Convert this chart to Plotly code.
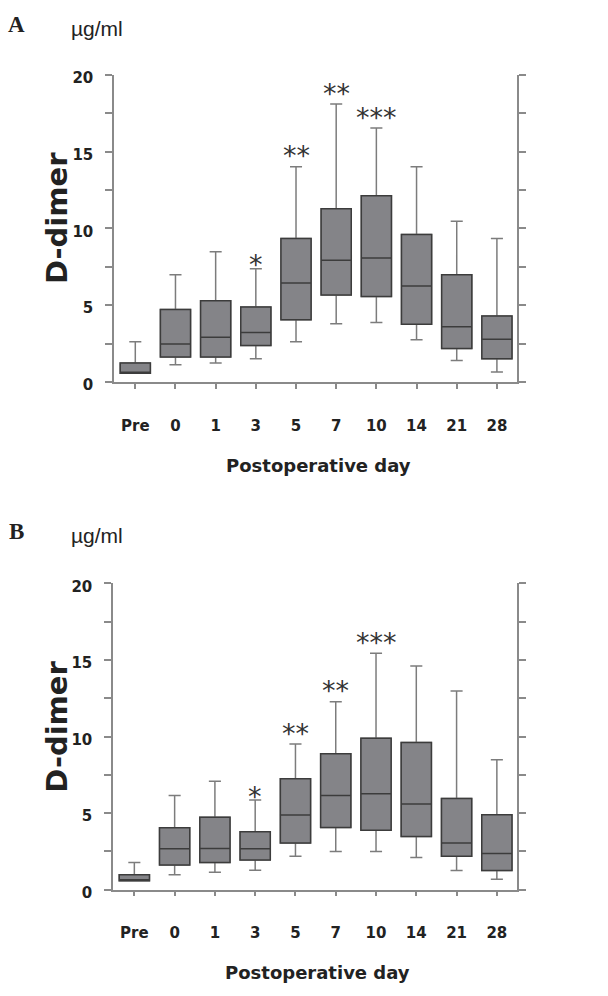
import plotly.graph_objects as go

categories = ["Pre", "0", "1", "3", "5", "7", "10", "14", "21", "28"]

# Panel A (D-dimer, µg/ml)
a_min = [0.57, 1.13, 1.24, 1.52, 2.63, 3.79, 3.88, 2.76, 1.41, 0.66]
a_q1 = [0.57, 1.63, 1.63, 2.38, 4.05, 5.67, 5.57, 3.77, 2.18, 1.52]
a_med = [0.60, 2.48, 2.91, 3.23, 6.45, 7.92, 8.07, 6.25, 3.60, 2.78]
a_q3 = [1.24, 4.73, 5.29, 4.88, 9.34, 11.28, 12.13, 9.61, 6.98, 4.30]
a_max = [2.63, 6.98, 8.48, 7.37, 14.02, 18.09, 16.53, 14.02, 10.47, 9.34]
a_sig = ["", "", "", "*", "**", "**", "***", "", "", ""]

# Panel B
b_min = [0.58, 0.97, 1.14, 1.27, 2.19, 2.49, 2.49, 2.11, 1.25, 0.69]
b_q1 = [0.58, 1.61, 1.78, 1.94, 3.05, 4.06, 3.89, 3.48, 2.19, 1.25]
b_med = [0.65, 2.67, 2.69, 2.67, 4.88, 6.15, 6.26, 5.59, 3.05, 2.37]
b_q3 = [0.97, 4.04, 4.73, 3.78, 7.25, 8.88, 9.89, 9.61, 5.96, 4.90]
b_max = [1.78, 6.15, 7.08, 5.85, 9.51, 12.28, 15.43, 14.60, 12.98, 8.49]
b_sig = ["", "", "", "*", "**", "**", "***", "", "", ""]

y_tickvals = [0, 2.5, 5, 7.5, 10, 12.5, 15, 17.5, 20]
y_ticktext = ["0", "", "5", "", "10", "", "15", "", "20"]

W, H = 608, 996
FILL = "#848488"
EDGE = "#3c3c3c"
WHISK = "#7c7c7c"
AXC = "#8a8a8a"
TXT = "#222222"

fig = go.Figure()


def add_panel(xa, ya, mn, q1, med, q3, mx):
    fig.add_trace(go.Box(
        x=categories, q1=q1, median=med, q3=q3, lowerfence=mn, upperfence=mx,
        xaxis=xa, yaxis=ya, boxpoints=False, width=0.75, whiskerwidth=0.4,
        fillcolor=FILL, line=dict(color=WHISK, width=1.5), hoverinfo="skip"))
    fig.add_trace(go.Box(
        x=categories, q1=q1, median=med, q3=q3, lowerfence=q1, upperfence=q3,
        xaxis=xa, yaxis=ya, boxpoints=False, width=0.75, whiskerwidth=0,
        fillcolor=FILL, line=dict(color=EDGE, width=1.5), hoverinfo="skip"))


add_panel("x", "y", a_min, a_q1, a_med, a_q3, a_max)
add_panel("x2", "y2", b_min, b_q1, b_med, b_q3, b_max)

tickfont = dict(family="DejaVu Sans", size=15, color=TXT, weight="bold")


def xaxis_cfg(x0, x1, anchor):
    return dict(domain=[x0 / W, x1 / W], anchor=anchor, type="category",
                categoryorder="array", categoryarray=categories,
                range=[-0.53, 9.5], showline=True, linecolor=AXC, linewidth=1.5,
                ticks="outside", ticklen=5, tickcolor=AXC, tickwidth=1.5,
                tickfont=tickfont, ticklabelstandoff=24, showgrid=False,
                zeroline=False, fixedrange=True)


def yaxis_cfg(ytop, ybot, anchor):
    return dict(domain=[1 - ybot / H, 1 - ytop / H], anchor=anchor,
                range=[0, 20], tickvals=y_tickvals, ticktext=y_ticktext,
                showline=True, mirror="ticks", linecolor=AXC, linewidth=1.5,
                ticks="outside", ticklen=7, tickcolor=AXC, tickwidth=1.5,
                tickfont=tickfont, ticklabelstandoff=9, ticklabelshift=3,
                showgrid=False, zeroline=False, fixedrange=True)


fig.update_layout(
    width=W, height=H, margin=dict(l=0, r=0, t=0, b=0),
    paper_bgcolor="white", plot_bgcolor="white", showlegend=False,
    boxmode="overlay",
    xaxis=xaxis_cfg(114, 517, "y"),
    yaxis=yaxis_cfg(70, 383, "x"),
    xaxis2=xaxis_cfg(113, 517, "y2"),
    yaxis2=yaxis_cfg(588, 900, "x2"),
)

ann = []


def px(x, y, text, size, family, weight="normal", xanchor="center",
       yanchor="middle", angle=0):
    ann.append(dict(x=x / W, y=1 - y / H, xref="paper", yref="paper",
                    text=text, showarrow=False, xanchor=xanchor,
                    yanchor=yanchor, textangle=angle,
                    font=dict(family=family, size=size, color=TXT,
                              weight=weight)))


# Panel labels, units and axis titles
for top, letter in ((0, "A"), (516, "B")):
    px(16, top + 19, letter, 23, "Liberation Serif", "bold")
    px(69, top + 23, "µg/ml", 21, "Liberation Sans", "normal", xanchor="left")

px(57, 216, "D-dimer", 29, "DejaVu Sans", "bold", angle=-90)
px(57, 734, "D-dimer", 29, "DejaVu Sans", "bold", angle=-90)
px(318, 468, "Postoperative day", 18, "DejaVu Sans", "bold")
px(317, 984, "Postoperative day", 18, "DejaVu Sans", "bold")

# Significance asterisks above the upper whiskers (x given as category index)
for xa, ya, sig, mx in (("x", "y", a_sig, a_max), ("x2", "y2", b_sig, b_max)):
    for i, (s, m) in enumerate(zip(sig, mx)):
        if s:
            ann.append(dict(x=i, y=m, xref=xa, yref=ya, text=s,
                            showarrow=False, xanchor="center",
                            yanchor="middle",
                            yshift=4 if len(s) == 1 else 11,
                            font=dict(family="DejaVu Sans", size=27,
                                      color="#333333")))

fig.update_layout(annotations=ann)
fig.write_html(
    "out.html",
    config={"displayModeBar": False},
    post_script="document.body.style.margin='0';"
                "document.body.style.overflow='hidden';")
